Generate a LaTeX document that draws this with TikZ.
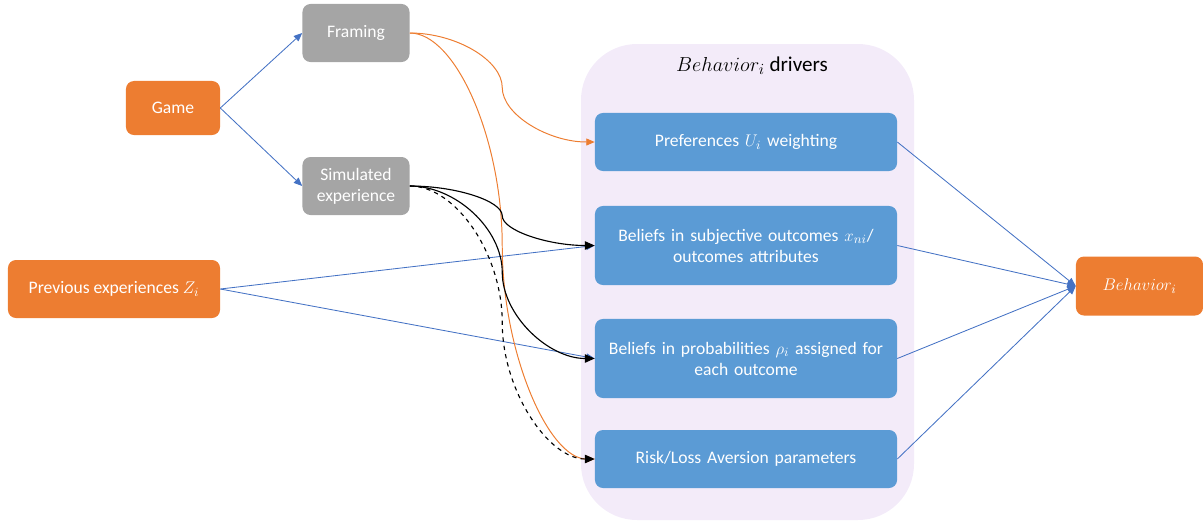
\documentclass[tikz,border=0pt]{standalone}
\usepackage{fontspec}
\setmainfont{Carlito}
\usepackage{xcolor}
\usetikzlibrary{arrows.meta,positioning,calc}
\definecolor{gameorange}{HTML}{ED7D31}
\definecolor{stagegrey}{HTML}{A5A5A5}
\definecolor{driverblue}{HTML}{5B9BD5}
\definecolor{linkblue}{HTML}{4472C4}
\definecolor{panelpurple}{HTML}{F3EBF9}
% curved connector: style, from, to
\newcommand{\curvelink}[3]{%
    \coordinate (mid) at ($(#2)!0.5!(#3)$);
    \draw[#1] (#2) .. controls ($(#2)!0.25!(#2 -| #3)$) and ($(mid)!0.5!(mid |- #2)$) .. (mid)
        .. controls ($(mid)!0.5!(mid |- #3)$) and ($(#3)!0.25!(#3 -| #2)$) .. (#3);}

\begin{document}
\begin{tikzpicture}[x=0.025cm, y=-0.025cm, font=\fontsize{12.5}{15}\selectfont,
    box/.style={rounded corners=0.2cm, text=white, align=center, inner sep=2pt},
    inputbox/.style={box, fill=gameorange},
    stagebox/.style={box, fill=stagegrey, minimum width=2.675cm, minimum height=1.45cm},
    driverbox/.style={box, fill=driverblue, minimum width=7.55cm, text width=7.2cm},
    bluelink/.style={-{Triangle[length=6pt,width=5pt]}, linkblue, line width=0.6pt},
    orangelink/.style={-{Triangle[length=6pt,width=5pt]}, gameorange, line width=0.7pt},
    blacklink/.style={-{Triangle[length=7pt,width=6pt]}, black, line width=0.8pt}]
    \useasboundingbox (0,0) rectangle (1203,522);

    % Drivers panel
    \fill[panelpurple, rounded corners=1.4cm] (581,44) rectangle (914,520);
    \node[font=\fontsize{15}{18}\selectfont] (title) at (752,66) {$Behavior_i$ drivers};

    % Inputs on the left
    \node[inputbox, minimum width=2.35cm, minimum height=1.35cm] (game) at (173,108) {Game};
    \node[stagebox] (framing) at (356,33) {Framing};
    \node[stagebox] (sim) at (356,186) {Simulated\\experience};
    \node[inputbox, minimum width=5.3cm, minimum height=1.45cm] (prev) at (114,289) {Previous experiences $Z_i$};

    % Drivers
    \node[driverbox, minimum height=1.45cm] (pref) at (746,142) {Preferences $U_i$ weighting};
    \node[driverbox, minimum height=1.975cm] (subj) at (746,245.5) {Beliefs in subjective outcomes $x_{ni}$/\\outcomes attributes};
    \node[driverbox, minimum height=1.975cm] (prob) at (746,358.5) {Beliefs in probabilities $\rho_i$ assigned for\\each outcome};
    \node[driverbox, minimum height=1.45cm] (risk) at (746,459) {Risk/Loss Aversion parameters};

    % Result
    \node[inputbox, minimum width=3.175cm, minimum height=1.475cm] (behav) at (1139.5,286) {$Behavior_i$};

    % Game splits
    \draw[bluelink] (game.east) -- (framing.west);
    \draw[bluelink] (game.east) -- (sim.west);
    \draw[bluelink] (prev.east) -- (subj.west);
    \draw[bluelink] (prev.east) -- (prob.west);

    % Framing curves
    \curvelink{orangelink}{framing.east}{pref.west}
    \curvelink{orangelink}{framing.east}{risk.west}

    % Simulated experience curves
    \curvelink{blacklink}{sim.east}{subj.west}
    \curvelink{blacklink}{sim.east}{prob.west}
    \curvelink{blacklink, dashed}{sim.east}{risk.west}

    % Drivers into behavior
    \foreach \d in {pref,subj,prob,risk}
        \draw[bluelink] (\d.east) -- (behav.west);
\end{tikzpicture}
\end{document}
